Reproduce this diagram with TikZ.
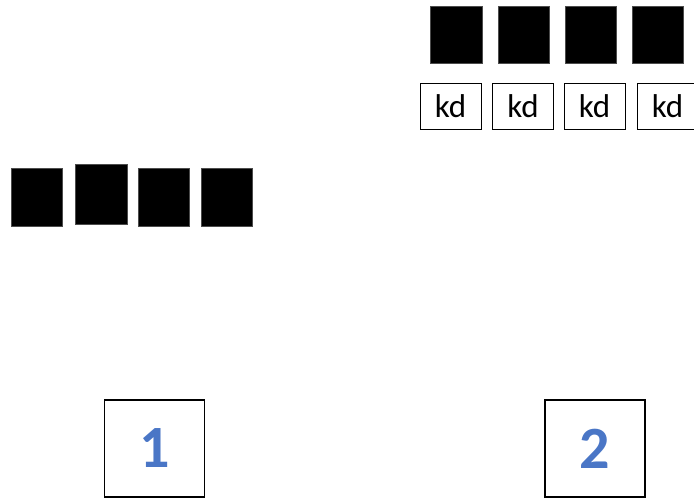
\documentclass[tikz,border=0pt]{standalone}
\usepackage{fontspec}
\setmainfont{Carlito}
\definecolor{digitblue}{HTML}{4A76C6}
\begin{document}
\begin{tikzpicture}[x=1pt,y=-1pt,
  blk/.style={fill=black,draw=black!70,line width=0.6pt},
  kdbox/.style={draw=black,line width=1pt,inner sep=0pt,minimum width=61pt,minimum height=46pt,font=\fontsize{33}{36}\selectfont},
  numbox/.style={draw=black,line width=1.3pt,inner sep=0pt,minimum width=100pt,minimum height=97pt},
  digit/.style={text=digitblue,font=\fontsize{60}{60}\bfseries\selectfont}]
\useasboundingbox (0,0) rectangle (694,498);
% top row of black squares
\path[blk] (430,6) rectangle (482,63);
\path[blk] (498,6) rectangle (549,63);
\path[blk] (565,6) rectangle (616,63);
\path[blk] (632,6) rectangle (683,63);
% kd boxes
\node[kdbox] (k1) at (450.5,106) {kd};
\node[kdbox] (k2) at (523,106) {kd};
\node[kdbox] (k3) at (594.5,106) {kd};
\node[kdbox] (k4) at (667.5,106) {kd};
% left row of black squares
\path[blk] (11,168) rectangle (62,226);
\path[blk] (75,164) rectangle (127,224);
\path[blk] (138,168) rectangle (189,226);
\path[blk] (201,168) rectangle (252,226);
% numbered boxes
\node[numbox] (b1) at (154.5,448.5) {};
\node[numbox] (b2) at (595,448.5) {};
\node[digit] (d1) at (b1.center) {1};
\node[digit] (d2) at (b2.center) {2};
\end{tikzpicture}
\end{document}
